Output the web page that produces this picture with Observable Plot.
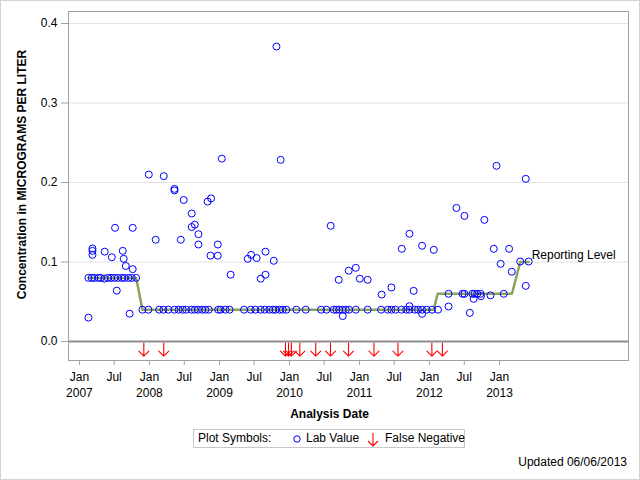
<!DOCTYPE html>
<html><head><meta charset="utf-8">
<script src="https://cdn.jsdelivr.net/npm/d3@7"></script>
<script src="https://cdn.jsdelivr.net/npm/@observablehq/plot@0.6"></script>
<style>
body{margin:0;background:#fff;font-family:"Liberation Sans",Arial,sans-serif;}
#wrap{position:relative;width:640px;height:480px;overflow:hidden;background:#fff}
#border{position:absolute;left:0;top:0;width:640px;height:480px;box-sizing:border-box;border:1px solid #d3d3d3;pointer-events:none}
#legend{position:absolute;left:193px;top:429px;width:272px;height:19px;box-sizing:border-box;border:1px solid #c8c8c8;font-size:12px;color:#000;white-space:nowrap}
#legend span{position:absolute;top:1px;line-height:15px;white-space:nowrap}
#legend svg{position:absolute}
#updated{position:absolute;right:13px;top:455px;font-size:12px;color:#000;white-space:nowrap}
</style></head>
<body>
<div id="wrap">
<div id="chart"></div>
<div id="legend">
  <span style="left:4px">Plot Symbols:</span>
  <svg style="left:98px;top:4px" width="10" height="10"><circle cx="5" cy="5" r="3.2" fill="none" stroke="#0000ff" stroke-width="1"/></svg>
  <span style="left:112px">Lab Value</span>
  <svg style="left:172px;top:2px" width="14" height="15"><path d="M7,1V14M2,9L7,14L12,9" fill="none" stroke="#ff0000" stroke-width="1.1"/></svg>
  <span style="left:191px">False Negative</span>
</div>
<div id="updated">Updated 06/06/2013</div>
<div id="border"></div>
</div>
<script>
// Lab values (blue circles)
const labDates = [
"2007-02-17","2007-02-17","2007-03-06","2007-03-10","2007-03-10","2007-03-10","2007-03-20","2007-04-10","2007-04-22",
"2007-05-11","2007-05-13","2007-05-29","2007-06-15","2007-06-19","2007-07-03","2007-07-06","2007-07-15","2007-07-20",
"2007-08-10","2007-08-15","2007-08-20","2007-08-24","2007-08-31","2007-09-14","2007-09-20","2007-10-01","2007-10-06",
"2007-10-06","2007-10-24","2007-11-26","2007-12-27","2007-12-29",
"2008-02-03","2008-02-21","2008-03-14","2008-03-16","2008-04-09","2008-05-11","2008-05-11","2008-05-11","2008-06-02",
"2008-06-13","2008-06-23","2008-06-28","2008-07-11","2008-08-07","2008-08-09","2008-08-09","2008-08-25","2008-08-25",
"2008-09-11","2008-09-13","2008-09-13","2008-10-02","2008-10-19","2008-10-31","2008-11-06","2008-11-15","2008-11-18",
"2008-12-23","2008-12-23","2008-12-25",
"2009-01-07","2009-01-13","2009-02-01","2009-02-22","2009-02-28","2009-05-09","2009-05-28","2009-06-13","2009-06-15",
"2009-07-07","2009-07-14","2009-08-04","2009-08-04","2009-08-25","2009-08-29","2009-08-29","2009-09-18","2009-10-06",
"2009-10-11","2009-10-20","2009-10-25","2009-11-10","2009-11-16","2009-11-27","2009-12-16",
"2010-02-06","2010-03-27","2010-06-15","2010-07-13","2010-08-04","2010-08-20","2010-09-03","2010-09-15","2010-09-17",
"2010-10-04","2010-10-06","2010-10-22","2010-11-06","2010-11-08","2010-12-13","2010-12-13",
"2011-01-03","2011-02-13","2011-02-13","2011-04-24","2011-04-27","2011-05-29","2011-06-17","2011-06-17","2011-07-08",
"2011-08-08","2011-08-10","2011-09-02","2011-09-19","2011-09-19","2011-09-19","2011-10-11","2011-10-17","2011-11-03",
"2011-11-24","2011-11-24","2011-11-24","2011-12-18",
"2012-01-15","2012-01-24","2012-02-15","2012-04-10","2012-04-10","2012-05-21","2012-06-22","2012-07-02","2012-07-02",
"2012-07-30","2012-08-13","2012-08-19","2012-08-24","2012-09-07","2012-09-24","2012-09-26","2012-10-14","2012-11-15",
"2012-12-02","2012-12-16",
"2013-01-07","2013-01-23","2013-02-20","2013-03-06","2013-04-19","2013-05-18","2013-05-18","2013-06-02"
];
const labValues = [
0.080,0.030,0.080,0.117,0.114,0.109,0.080,0.080,0.080,
0.079,0.113,0.080,0.080,0.106,0.080,0.143,0.064,0.080,
0.080,0.114,0.104,0.080,0.095,0.080,0.035,0.080,0.143,
0.091,0.080,0.040,0.040,0.210,
0.128,0.040,0.040,0.208,0.040,0.040,0.192,0.190,0.040,
0.128,0.040,0.178,0.040,0.040,0.161,0.144,0.040,0.147,
0.040,0.135,0.122,0.040,0.040,0.176,0.040,0.108,0.180,
0.122,0.108,0.040,
0.040,0.230,0.040,0.040,0.084,0.040,0.104,0.040,0.109,
0.040,0.105,0.040,0.079,0.040,0.113,0.084,0.040,0.040,
0.1015,0.040,0.371,0.040,0.2285,0.040,0.040,
0.040,0.040,0.040,0.040,0.1455,0.040,0.040,0.0776,0.040,
0.040,0.032,0.040,0.089,0.040,0.040,0.0927,
0.079,0.040,0.0776,0.040,0.059,0.040,0.040,0.068,0.040,
0.040,0.1166,0.040,0.040,0.1355,0.0444,0.0637,0.040,0.040,
0.040,0.1204,0.0348,0.040,
0.040,0.1153,0.040,0.060,0.044,0.168,0.060,0.060,0.158,
0.036,0.060,0.0537,0.060,0.060,0.060,0.057,0.153,0.058,
0.1166,0.221,
0.0977,0.060,0.1166,0.0877,0.1006,0.2046,0.070,0.1006
];
// Reporting level (olive line)
const rlDates = ["2007-02-17","2007-10-24","2007-11-26","2012-01-24","2012-02-13","2013-03-07","2013-04-19","2013-06-02"];
const rlValues = [0.08,0.08,0.04,0.04,0.06,0.06,0.10,0.10];
// False negatives (red arrows)
const fnDates = ["2007-12-03","2008-03-16","2009-12-11","2009-12-27","2010-01-11","2010-02-24","2010-05-18",
"2010-08-03","2010-11-05","2011-03-18","2011-07-21","2012-01-14","2012-03-09"];
// Axis ticks
const xTickDates = ["2007-01-01","2007-07-01","2008-01-01","2008-07-01","2009-01-01","2009-07-01","2010-01-01",
"2010-07-01","2011-01-01","2011-07-01","2012-01-01","2012-07-01","2013-01-01"];
const xTickLabels = ["Jan\n2007","Jul","Jan\n2008","Jul","Jan\n2009","Jul","Jan\n2010","Jul","Jan\n2011","Jul","Jan\n2012","Jul","Jan\n2013"];
const yTicks = [0, 0.1, 0.2, 0.3, 0.4];
const yGrid = [0.1, 0.2, 0.3, 0.4];

const parse = d3.utcParse("%Y-%m-%d");
const lab = labDates.map((d, i) => ({date: parse(d), value: labValues[i]}));
const rl = rlDates.map((d, i) => ({date: parse(d), value: rlValues[i]}));
const fn = fnDates.map(d => ({date: parse(d), value: -0.002}));
const xTicks = xTickDates.map(parse);
const tickLabel = d => xTickLabels[xTicks.findIndex(t => +t === +d)];

// down-arrow glyph: stem from tail (0,0) to tip (0,-l), open V head at the tip
const arrowShape = {
  draw(context, l) {
    const w = 5;
    context.moveTo(0, 0);
    context.lineTo(0, -l);
    context.moveTo(-w, -l + w);
    context.lineTo(0, -l);
    context.lineTo(w, -l + w);
  }
};

const chart = Plot.plot({
  width: 640, height: 425,
  marginLeft: 68, marginRight: 12, marginTop: 11, marginBottom: 65,
  style: {fontFamily: '"Liberation Sans", Arial, sans-serif', fontSize: "12px", color: "#000", background: "#fff"},
  x: {type: "utc", domain: [parse("2006-11-05"), parse("2014-11-05")]},
  y: {domain: [-0.0239, 0.4151]},
  marks: [
    Plot.gridY(yGrid, {stroke: "#e2e2e2", strokeOpacity: 1}),
    Plot.ruleY([0], {stroke: "#8c8c8c", strokeWidth: 2}),
    Plot.frame({stroke: "#a0a0a0"}),
    Plot.axisY(yTicks, {tickSize: 7, tickPadding: 4, tickFormat: d => d.toFixed(1), stroke: "#a0a0a0", label: null}),
    Plot.axisX(xTicks, {tickSize: 5, tickPadding: 4, tickFormat: tickLabel, stroke: "#a0a0a0", label: null, lineHeight: 1.35}),
    Plot.line(rl, {x: "date", y: "value", stroke: "#8da35c", strokeWidth: 2.5}),
    Plot.dot(lab, {x: "date", y: "value", r: 3.5, stroke: "#0000ff", strokeWidth: 1}),
    Plot.vector(fn, {x: "date", y: "value", rotate: 180, length: 13, anchor: "start", stroke: "#ff0000", strokeWidth: 1.1, shape: arrowShape}),
    Plot.text([rl[rl.length - 1]], {x: "date", y: "value", text: () => "Reporting Level", textAnchor: "start", dx: 3, dy: -7, fontSize: 12}),
    Plot.text(["Concentration in MICROGRAMS PER LITER"], {frameAnchor: "left", textAnchor: "middle", lineAnchor: "middle", rotate: -90, dx: -46, dy: -11.5, fontWeight: "bold", fontSize: 12}),
    Plot.text(["Analysis Date"], {frameAnchor: "bottom", dy: 57, dx: -19, fontWeight: "bold", fontSize: 12})
  ]
});
document.getElementById("chart").append(chart);
</script>
</body></html>
